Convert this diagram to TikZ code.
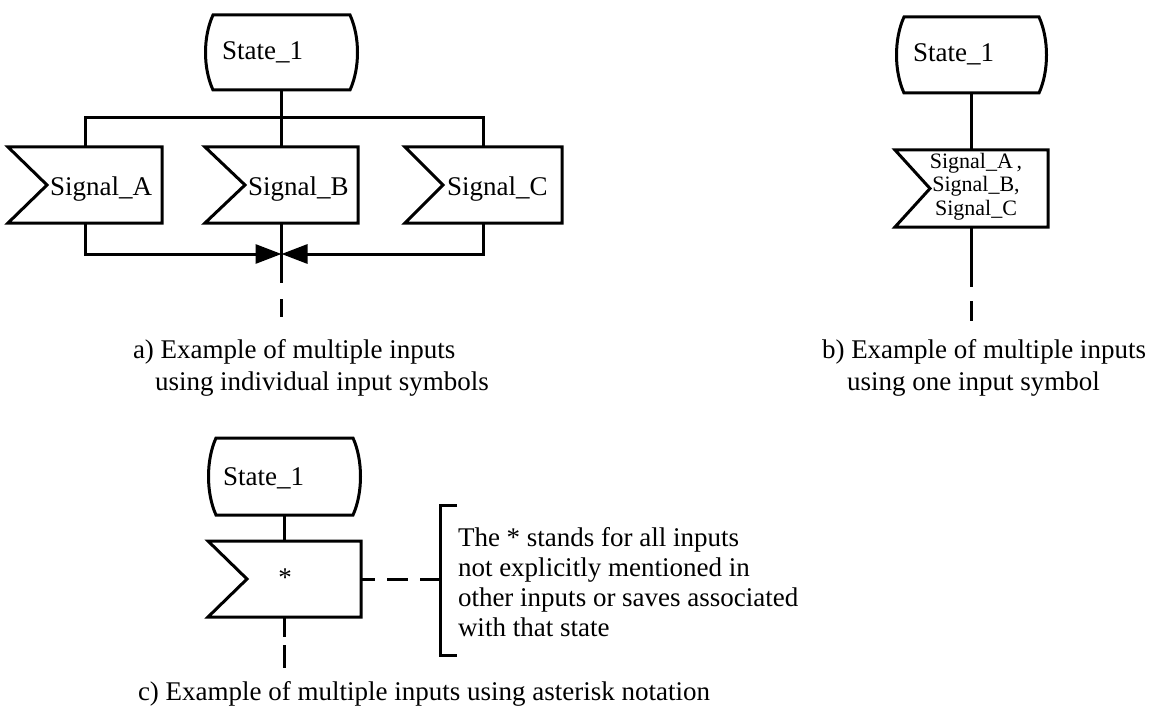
\documentclass[tikz,border=0pt]{standalone}
\usepackage{fontspec}
\setmainfont{Liberation Serif}
\usetikzlibrary{arrows.meta,calc,fit}
\tikzset{
  sym/.style={line width=1.5pt, line join=miter},
  conn/.style={line width=1.5pt},
  lbl/.style={font=\fontsize{13.5}{15}\selectfont, inner sep=0pt, outer sep=0pt},
  captext/.style={font=\fontsize{13.5}{16}\selectfont, inner sep=0pt, outer sep=0pt},
  small/.style={font=\fontsize{11}{11.75}\selectfont, inner sep=0pt, outer sep=0pt},
  hole/.style={inner sep=0pt, outer sep=0pt, draw=none},
  tip/.style={-{Triangle[length=13pt,width=9.5pt]}},
}
\newcommand{\statesym}[5]{% name, left, top, right, bottom
  \path (#2,#3) coordinate (#1-nw) (#4,#5) coordinate (#1-se);
  \node[hole, fit=(#1-nw)(#1-se)] (#1) {};
  \draw[sym] ($(#1.north west)+(8,0)$) -- ($(#1.north east)+(-8,0)$)
    .. controls +(10,22) and +(10,-22) .. ($(#1.south east)+(-8,0)$)
    -- ($(#1.south west)+(8,0)$)
    .. controls +(-10,-22) and +(-10,22) .. ($(#1.north west)+(8,0)$) -- cycle;
}
\newcommand{\inputsym}[6]{% name, left, top, right, bottom, notch
  \path (#2,#3) coordinate (#1-nw) (#4,#5) coordinate (#1-se);
  \node[hole, fit=(#1-nw)(#1-se)] (#1) {};
  \draw[sym] (#1.north west) -- (#1.north east) -- (#1.south east)
    -- (#1.south west) -- ($(#1.west)+(#6,0)$) -- cycle;
}
\begin{document}
\begin{tikzpicture}[x=0.5pt,y=-0.5pt]
\useasboundingbox (0,0) rectangle (1151,717);
\fill[white] (0,0) rectangle (1151,717);

% ---------- panel a ----------
\statesym{sta}{205}{15}{358}{90}
\node[lbl, anchor=base west] (sta-t) at (222,60) {State\_1};
\inputsym{sa}{8}{147}{162}{223}{39}
\node[lbl, anchor=base west] (sa-t) at (50,195) {Signal\_A};
\inputsym{sb}{205}{147}{358}{223}{40}
\node[lbl, anchor=base west] (sb-t) at (248,195) {Signal\_B};
\inputsym{sc}{405}{147}{562}{223}{38}
\node[lbl, anchor=base west] (sc-t) at (447,195) {Signal\_C};

\path (sta.south) ++(0,28) coordinate (bus);
\draw[conn] (sta.south) -- (sb.north);
\draw[conn] (sa.north) |- (bus) -| (sc.north);
\path (sb.south) ++(0,31) coordinate (j);
\draw[conn, tip] (sa.south) |- (j);
\draw[conn, tip] (sc.south) |- (j);
\path (sb.south) ++(0,60) coordinate (aend);
\draw[conn] (sb.south) -- (aend);
\path (sb.south) ++(0,76) coordinate (ad1) ++(0,18) coordinate (ad2);
\draw[conn] (ad1) -- (ad2);

\node[captext, anchor=base west, align=left] (capa) at (133,390)
  {a) Example of multiple inputs\\\hspace*{11pt}using individual input symbols};

% ---------- panel b ----------
\statesym{stb}{896}{17}{1047}{93}
\node[lbl, anchor=base west] (stb-t) at (913,62) {State\_1};
\inputsym{sbb}{895}{150}{1048}{227}{35}
\node[small, anchor=base, align=center] (sbb-t) at (976,215)
  {Signal\_A\,,\\Signal\_B,\\Signal\_C};
\draw[conn] (stb.south) -- (sbb.north);
\path (sbb.south) ++(0,60) coordinate (bend);
\draw[conn] (sbb.south) -- (bend);
\path (sbb.south) ++(0,74) coordinate (bd1) ++(0,20) coordinate (bd2);
\draw[conn] (bd1) -- (bd2);

\node[captext, anchor=base west, align=left] (capb) at (822,390)
  {b) Example of multiple inputs\\\hspace*{12.5pt}using one input symbol};

% ---------- panel c ----------
\statesym{stc}{208}{438}{361}{515}
\node[lbl, anchor=base west] (stc-t) at (223,485) {State\_1};
\inputsym{scc}{208}{541}{361}{617}{39}
\node[lbl] (ast) at (285,578) {*};
\draw[conn] (stc.south) -- (scc.north);
\path (scc.south) ++(0,20) coordinate (cend);
\draw[conn] (scc.south) -- (cend);
\path (scc.south) ++(0,28) coordinate (cd1) ++(0,23) coordinate (cd2);
\draw[conn] (cd1) -- (cd2);

\node[lbl, anchor=base west, align=left] (note) at (458,636)
  {The * stands for all inputs\\not explicitly mentioned in\\other inputs or saves associated\\with that state};
\coordinate (bk0) at (440,505);
\coordinate (bk1) at (440,655);
\draw[conn] ($(bk0)+(17,0)$) -- (bk0) -- (bk1) -- ($(bk1)+(17,0)$);
\draw[conn, dash pattern=on 7pt off 6pt on 10.5pt off 6pt on 10pt] (scc.east) -- (scc.east -| bk0);

\node[lbl, anchor=base west] (capc) at (138,700)
  {c) Example of multiple inputs using asterisk notation};
\end{tikzpicture}
\end{document}
